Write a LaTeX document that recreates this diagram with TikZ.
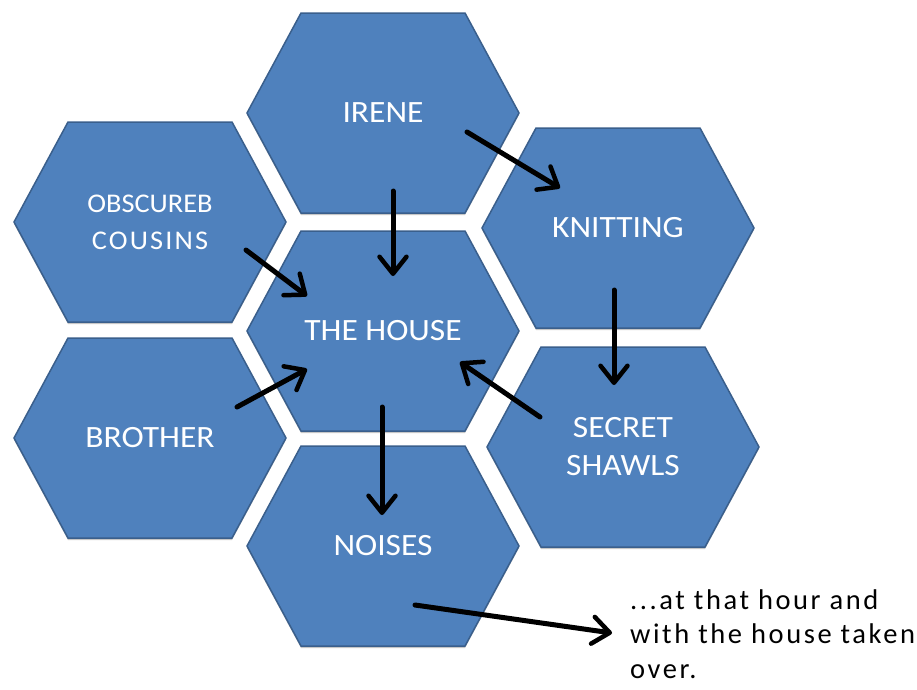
\documentclass[tikz,border=0pt]{standalone}
\usepackage{fontspec}
\setmainfont{Carlito}
\newfontfamily\hexfont{Carlito}[FakeStretch=1.08]
\newfontfamily\hexfontwide{Carlito}[FakeStretch=1.05]
\newfontfamily\notefont{Carlito}[LetterSpace=9]
\usetikzlibrary{arrows.meta}
\definecolor{hexfill}{RGB}{79,129,189}
\definecolor{hexline}{RGB}{58,95,140}
\tikzset{
  hexbox/.style={fill=hexfill, draw=hexline, line width=1.5pt, line join=miter},
  hexshadow/.style={fill=black, opacity=0.22},
  hexlabel/.style={text=white, inner sep=0pt, align=center, font=\hexfont\fontsize{31}{38}\selectfont},
  smalllabel/.style={hexlabel, font=\hexfontwide\fontsize{27}{37}\selectfont},
  notetext/.style={text=black, inner sep=0pt, align=left, font=\notefont\fontsize{28.5}{34.5}\selectfont},
  arrowline/.style={draw=black, line width=5pt, line cap=round,
    -{Straight Barb[length=17pt,width=27pt,line width=4.5pt,round]}}
}
\newcommand{\hexcell}[5]{%
  \fill[hexshadow] (#2-136,#3+2) -- (#2-82,#3-98) -- (#2+82,#3-98) -- (#2+136,#3+2) -- (#2+82,#3+102) -- (#2-82,#3+102) -- cycle;
  \draw[hexbox] (#2-136,#3) -- (#2-82,#3-100) -- (#2+82,#3-100) -- (#2+136,#3) -- (#2+82,#3+100) -- (#2-82,#3+100) -- cycle;
  \node[#4] (#1) at (#2,#3) {#5};
}
\begin{document}
\begin{tikzpicture}[x=1pt,y=-1pt]
\useasboundingbox (0,0) rectangle (917,689);
\fill[white] (0,0) rectangle (917,689);

\hexcell{irene}{383}{113}{hexlabel}{IRENE}
\hexcell{cousins}{150}{222}{smalllabel}{OBSCUREB\\{\addfontfeature{LetterSpace=8}COUSINS}}
\hexcell{knitting}{618}{228}{hexlabel}{KNITTING}
\hexcell{house}{383}{331}{hexlabel}{THE HOUSE}
\hexcell{brother}{150}{438}{hexlabel}{BROTHER}
\hexcell{shawls}{623}{447}{hexlabel}{SECRET\\SHAWLS}
\hexcell{noises}{383}{546}{hexlabel}{NOISES}

\node[notetext, anchor=base west] (note) at (630,678) {...at that hour and\\with the house taken\\over.};

\coordinate (ireneA) at (467,132);
\coordinate (knitA) at (560,188);
\coordinate (ireneB) at (393,191);
\coordinate (houseA) at (393,276);
\coordinate (cousinsA) at (246,250);
\coordinate (houseB) at (307,296);
\coordinate (brotherA) at (237,407);
\coordinate (houseC) at (307,369);
\coordinate (knitB) at (614,290);
\coordinate (shawlsA) at (614,385);
\coordinate (shawlsB) at (540,417);
\coordinate (houseD) at (460,362);
\coordinate (houseE) at (382,407);
\coordinate (noisesA) at (382,515);
\coordinate (noisesB) at (415,605);
\coordinate (noteA) at (612,633);

\draw[arrowline] (ireneA) -- (knitA);
\draw[arrowline] (ireneB) -- (houseA);
\draw[arrowline] (cousinsA) -- (houseB);
\draw[arrowline] (brotherA) -- (houseC);
\draw[arrowline] (knitB) -- (shawlsA);
\draw[arrowline] (shawlsB) -- (houseD);
\draw[arrowline] (houseE) -- (noisesA);
\draw[arrowline] (noisesB) -- (noteA);
\end{tikzpicture}
\end{document}
